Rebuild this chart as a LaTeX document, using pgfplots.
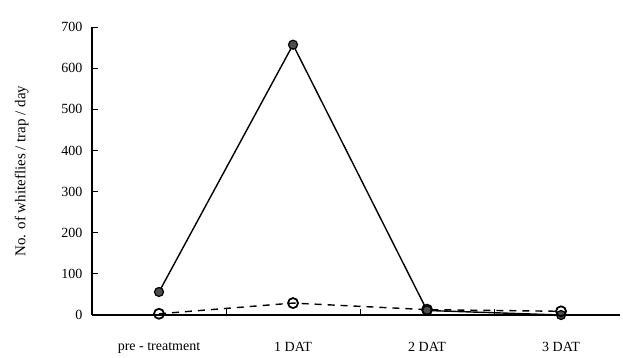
\documentclass[border=0pt]{standalone}
\usepackage{fontspec}
\setmainfont{Liberation Serif}
\usepackage{pgfplots}
\pgfplotsset{compat=1.18}
\begin{document}
\begin{tikzpicture}[x=1pt,y=1pt]
\path[use as bounding box] (-92,-42) rectangle (531,315);
\begin{axis}[
  at={(0,0)}, anchor=south west,
  scale only axis, width=528pt, height=288pt,
  xmin=0, xmax=3.94, ymin=0, ymax=700,
  axis x line=bottom, axis y line=left,
  axis line style={-, line width=1.2pt},
  xtick={1,2,3}, xticklabels={},
  extra x ticks={0.5,1.5,2.5,3.5},
  extra x tick labels={pre - treatment, 1 DAT, 2 DAT, 3 DAT},
  extra x tick style={major tick length=0pt, tick label style={yshift=-24pt}},
  ytick={0,100,...,700},
  yticklabel style={xshift=-6pt},
  tick align=inside, major tick length=6pt,
  tick style={black, line width=1pt},
  tick label style={font=\fontsize{14}{16}\selectfont},
  /pgf/number format/assume math mode=true,
  ylabel={No. of whiteflies / trap / day},
  ylabel style={font=\fontsize{15}{17}\selectfont, yshift=26pt},
  clip=false,
]
\addplot[black, line width=1.4pt, mark=*, mark size=4.5pt,
  mark options={fill=black!70, draw=black, line width=1.2pt}]
  coordinates {(0.5,56) (1.5,657) (2.5,11) (3.5,0)};
\addplot[black, line width=1.4pt, dashed, dash pattern=on 7pt off 6pt, mark=o, mark size=5pt,
  mark options={solid, fill=white, draw=black, line width=1.8pt}]
  coordinates {(0.5,3) (1.5,29) (2.5,13) (3.5,9)};
\end{axis}
\end{tikzpicture}
\end{document}
